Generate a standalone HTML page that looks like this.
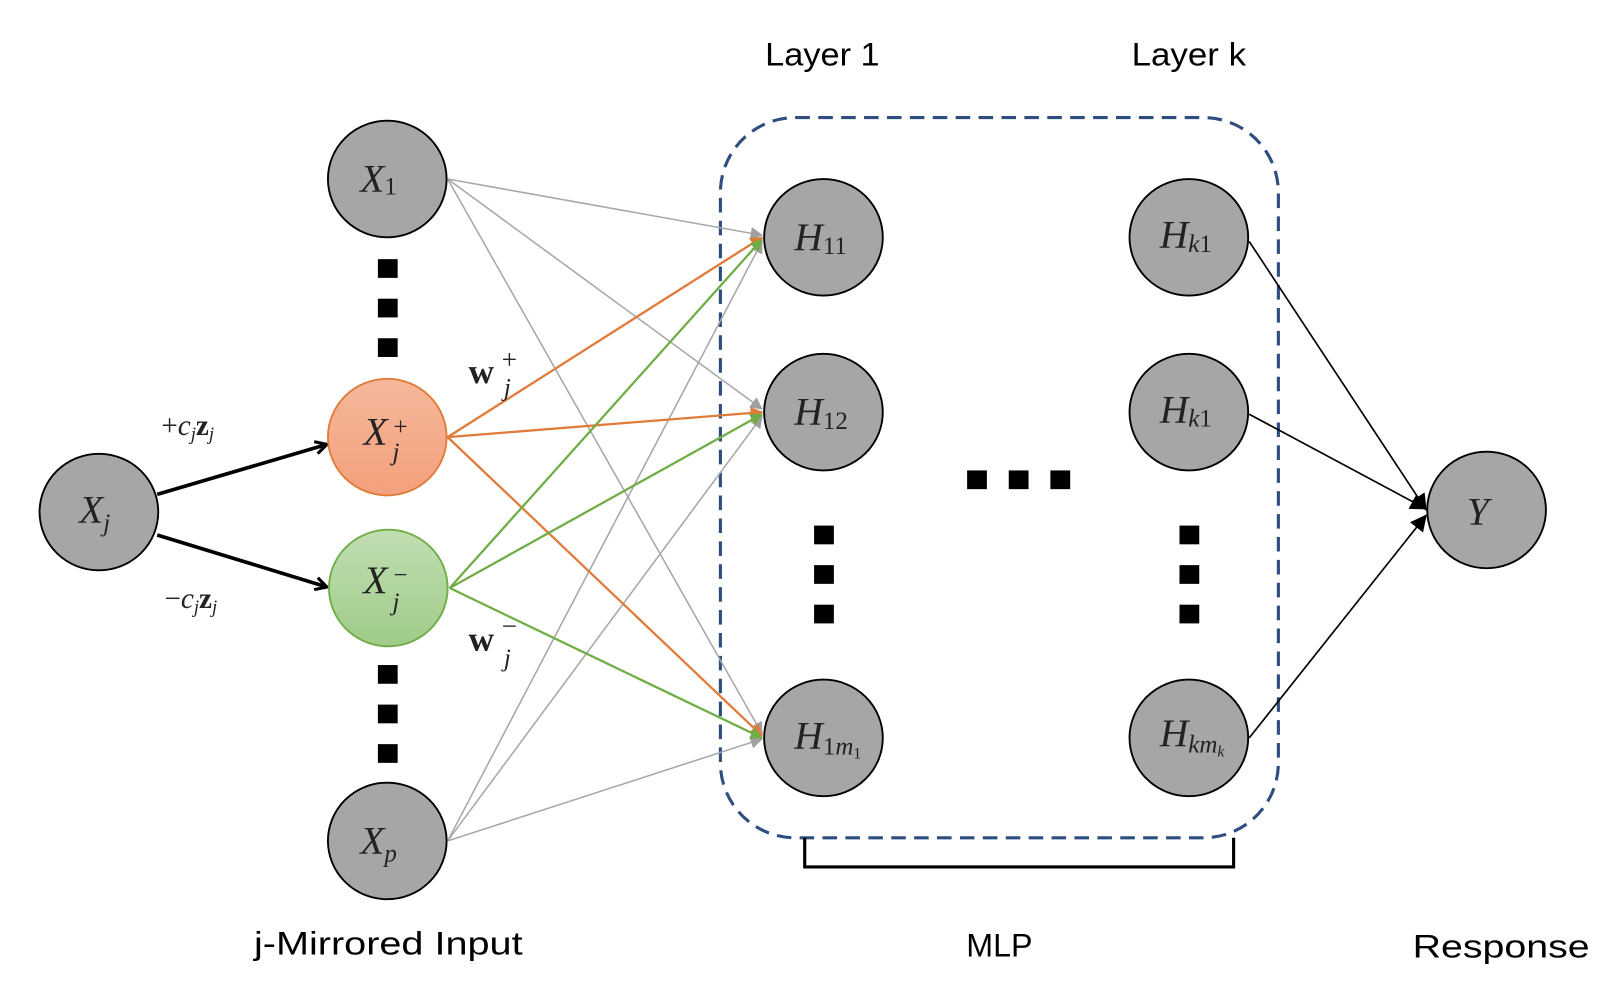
<!DOCTYPE html>
<html><head><meta charset="utf-8"><style>
html,body{margin:0;padding:0;background:#fff;}
svg{display:block;}
.m{font-family:"Liberation Serif",serif;font-style:italic;fill:#222;}
.s{font-family:"Liberation Sans",sans-serif;fill:#000;}
</style></head><body>
<svg width="1624" height="996" viewBox="0 0 1560 957" preserveAspectRatio="none" xmlns="http://www.w3.org/2000/svg">
<defs>
<marker id="ag" markerWidth="12" markerHeight="12" refX="11" refY="6" orient="auto" markerUnits="userSpaceOnUse" viewBox="0 0 12 12"><path d="M0,0 L12,6 L0,12 z" fill="#a0a0a0"/></marker>
<marker id="ao" markerWidth="12" markerHeight="12" refX="11" refY="6" orient="auto" markerUnits="userSpaceOnUse" viewBox="0 0 12 12"><path d="M0,0 L12,6 L0,12 z" fill="#e07b39"/></marker>
<marker id="agr" markerWidth="12" markerHeight="12" refX="11" refY="6" orient="auto" markerUnits="userSpaceOnUse" viewBox="0 0 12 12"><path d="M0,0 L12,6 L0,12 z" fill="#70ad47"/></marker>
<marker id="ab" markerWidth="16" markerHeight="16" refX="15" refY="8" orient="auto" markerUnits="userSpaceOnUse" viewBox="0 0 16 16"><path d="M0,0 L16,8 L0,16 z" fill="#000"/></marker>
<marker id="av" markerWidth="14" markerHeight="14" refX="12" refY="7" orient="auto" markerUnits="userSpaceOnUse" viewBox="0 0 14 14"><path d="M1,1 L12,7 L1,13" fill="none" stroke="#000" stroke-width="3"/></marker>
<linearGradient id="go" x1="0" y1="0" x2="0" y2="1"><stop offset="0" stop-color="#f5b89b"/><stop offset="1" stop-color="#f4a07c"/></linearGradient>
<linearGradient id="gg" x1="0" y1="0" x2="0" y2="1"><stop offset="0" stop-color="#c2deb3"/><stop offset="1" stop-color="#9fcb88"/></linearGradient>
</defs>

<rect x="692" y="113" width="536" height="692" rx="72" ry="72" fill="none" stroke="#2f4e80" stroke-width="3" stroke-dasharray="14 8"/>
<path d="M773,805 V833 H1185 V805" fill="none" stroke="#000" stroke-width="3"/>

<g stroke="#a8a8a8" stroke-width="1.5" marker-end="url(#ag)">
<line x1="430" y1="172" x2="732" y2="226"/>
<line x1="430" y1="172" x2="732" y2="393"/>
<line x1="430" y1="172" x2="732" y2="705"/>
<line x1="430" y1="808" x2="732" y2="232"/>
<line x1="430" y1="808" x2="732" y2="400"/>
<line x1="430" y1="808" x2="732" y2="710"/>
</g>
<g stroke="#e07b39" stroke-width="2.2" marker-end="url(#ao)">
<line x1="430" y1="420" x2="732" y2="228"/>
<line x1="430" y1="420" x2="732" y2="396"/>
<line x1="430" y1="420" x2="732" y2="707"/>
</g>
<g stroke="#70ad47" stroke-width="2.2" marker-end="url(#agr)">
<line x1="432" y1="565" x2="732" y2="230"/>
<line x1="432" y1="565" x2="732" y2="398"/>
<line x1="432" y1="565" x2="732" y2="709"/>
</g>
<g stroke="#000" stroke-width="3.5" marker-end="url(#av)">
<line x1="151" y1="475" x2="314" y2="427"/>
<line x1="151" y1="514" x2="314" y2="564"/>
</g>
<g stroke="#000" stroke-width="1.6" marker-end="url(#ab)">
<line x1="1200" y1="232" x2="1370" y2="490"/>
<line x1="1200" y1="398" x2="1370" y2="489"/>
<line x1="1200" y1="709" x2="1370" y2="495"/>
</g>

<g fill="#a6a6a6" stroke="#000" stroke-width="1.8">
<ellipse cx="95" cy="492" rx="57" ry="56"/>
<ellipse cx="372" cy="172" rx="57" ry="56"/>
<ellipse cx="372" cy="808" rx="57" ry="56"/>
<ellipse cx="791" cy="228" rx="57" ry="56"/>
<ellipse cx="791" cy="396" rx="57" ry="56"/>
<ellipse cx="791" cy="709" rx="57" ry="56"/>
<ellipse cx="1142" cy="228" rx="57" ry="56"/>
<ellipse cx="1142" cy="396" rx="57" ry="56"/>
<ellipse cx="1142" cy="709" rx="57" ry="56"/>
<ellipse cx="1428" cy="490" rx="57" ry="56"/>
</g>
<ellipse cx="372" cy="420" rx="57" ry="56" fill="url(#go)" stroke="#e07b39" stroke-width="1.8"/>
<ellipse cx="373" cy="565" rx="57" ry="56" fill="url(#gg)" stroke="#70ad47" stroke-width="1.8"/>

<g fill="#000">
<rect x="363" y="249" width="19" height="18"/><rect x="363" y="287" width="19" height="18"/><rect x="363" y="325" width="19" height="18"/>
<rect x="363" y="639" width="19" height="18"/><rect x="363" y="677" width="19" height="18"/><rect x="363" y="715" width="19" height="18"/>
<rect x="782" y="505" width="19" height="18"/><rect x="782" y="543" width="19" height="18"/><rect x="782" y="581" width="19" height="18"/>
<rect x="1133" y="505" width="19" height="18"/><rect x="1133" y="543" width="19" height="18"/><rect x="1133" y="581" width="19" height="18"/>
<rect x="929" y="452" width="19" height="18"/><rect x="969" y="452" width="19" height="18"/><rect x="1009" y="452" width="19" height="18"/>
</g>

<g class="m" font-size="38">
<text x="76" y="502">X<tspan font-size="24" dy="8">j</tspan></text>
<text x="346" y="184">X<tspan font-size="24" dy="3" font-style="normal">1</tspan></text>
<text x="346" y="820">X<tspan font-size="24" dy="8">p</tspan></text>
<text x="349" y="427">X</text><text x="378" y="418" font-size="24" font-style="normal">+</text><text x="377" y="442" font-size="24">j</text>
<text x="349" y="570">X</text><text x="378" y="560" font-size="24" font-style="normal">−</text><text x="377" y="586" font-size="24">j</text>
<text x="763" y="240">H<tspan font-size="24" dy="4" font-style="normal">11</tspan></text>
<text x="763" y="408">H<tspan font-size="24" dy="4" font-style="normal">12</tspan></text>
<text x="763" y="719">H<tspan font-size="24" dy="6" font-style="normal">1</tspan><tspan font-size="24">m</tspan><tspan font-size="15" dy="4" font-style="normal">1</tspan></text>
<text x="1114" y="238">H<tspan font-size="24" dy="4">k</tspan><tspan font-size="24" font-style="normal">1</tspan></text>
<text x="1114" y="406">H<tspan font-size="24" dy="4">k</tspan><tspan font-size="24" font-style="normal">1</tspan></text>
<text x="1114" y="717">H<tspan font-size="24" dy="6">km</tspan><tspan font-size="15" dy="4">k</tspan></text>
<text x="1409" y="504">Y</text>
</g>
<g class="m" font-size="28">
<text x="155" y="418"><tspan font-style="normal">+</tspan>c<tspan font-size="18" dy="5">j</tspan><tspan dy="-5" font-weight="bold" font-style="normal">z</tspan><tspan font-size="18" dy="5">j</tspan></text>
<text x="158" y="584"><tspan font-style="normal">−</tspan>c<tspan font-size="18" dy="5">j</tspan><tspan dy="-5" font-weight="bold" font-style="normal">z</tspan><tspan font-size="18" dy="5">j</tspan></text>
</g>
<g class="m" font-size="34">
<text x="450" y="368" font-weight="bold" font-style="normal">w</text><text x="482" y="354" font-size="26" font-style="normal">+</text><text x="484" y="380" font-size="24">j</text>
<text x="450" y="625" font-weight="bold" font-style="normal">w</text><text x="482" y="610" font-size="26" font-style="normal">−</text><text x="484" y="640" font-size="24">j</text>
</g>

<g class="s" font-size="31" text-anchor="middle">
<text x="790" y="63" textLength="110" lengthAdjust="spacingAndGlyphs">Layer 1</text>
<text x="1142" y="63" textLength="110" lengthAdjust="spacingAndGlyphs">Layer k</text>
<text x="373" y="917" textLength="258" lengthAdjust="spacingAndGlyphs">j-Mirrored Input</text>
<text x="960" y="919">MLP</text>
<text x="1442" y="920" textLength="170" lengthAdjust="spacingAndGlyphs">Response</text>
</g>
</svg>
</body></html>
